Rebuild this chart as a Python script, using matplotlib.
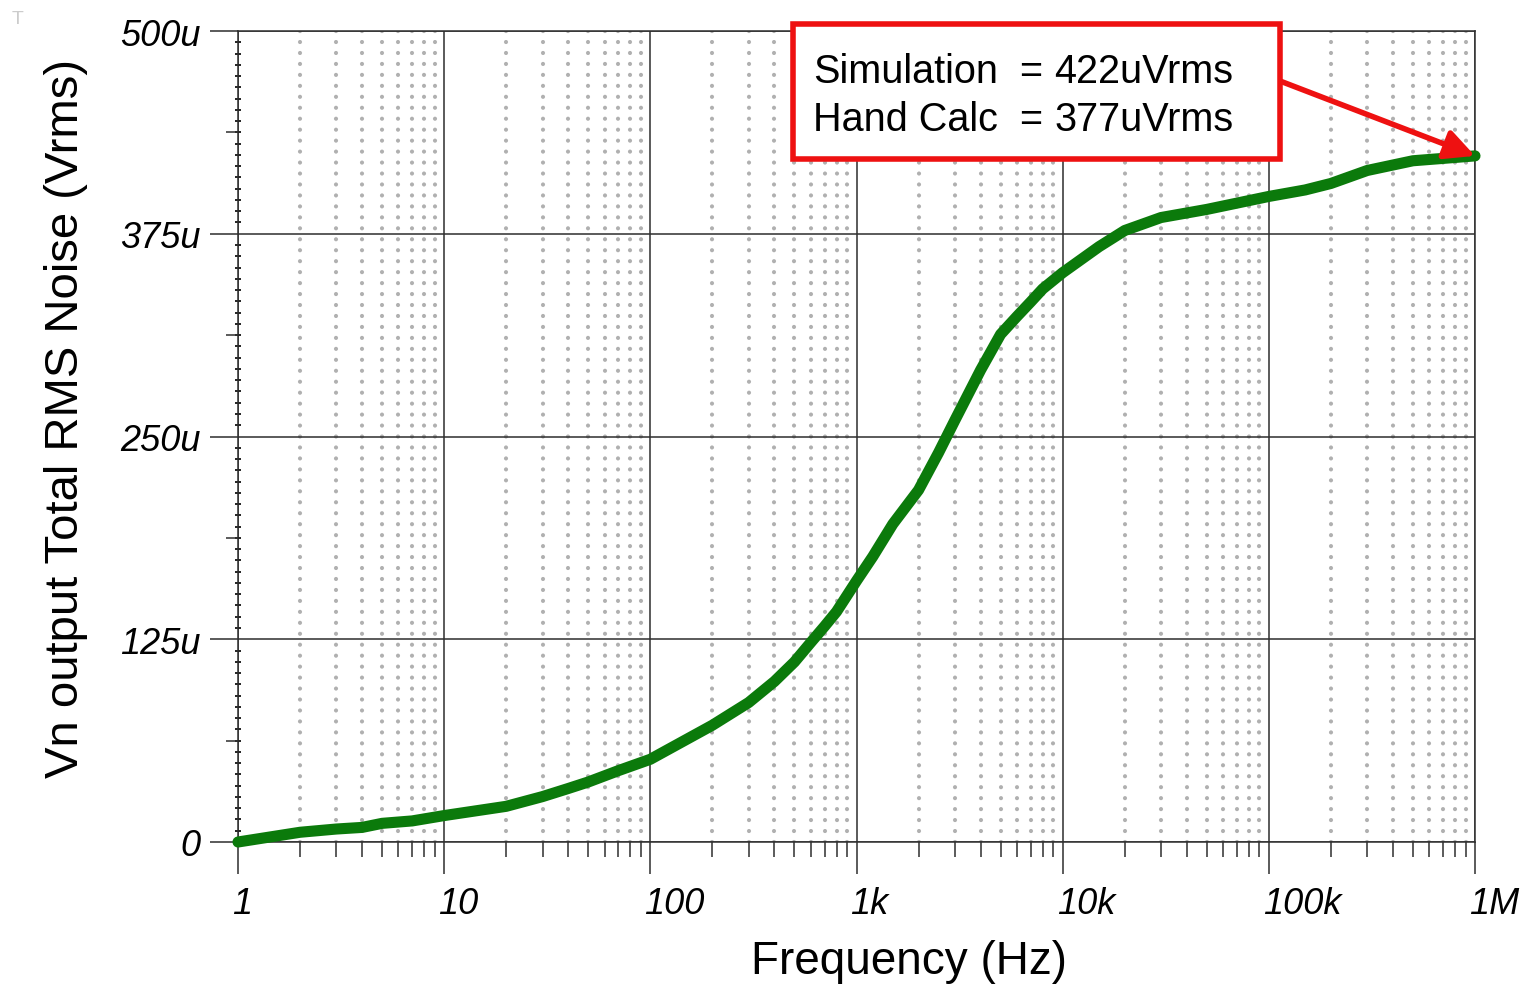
import matplotlib
matplotlib.use("Agg")
import matplotlib.pyplot as plt
import matplotlib.transforms as mtransforms
from matplotlib.ticker import FixedLocator, MultipleLocator, NullFormatter
from matplotlib.patches import Rectangle

# Curve (frequency in Hz, noise in uVrms)
freq = [1, 2, 3, 4, 5, 7, 10, 20, 30, 40, 50, 70, 100, 200, 300, 400, 500, 600, 700, 800,
        1000, 1200, 1500, 2000, 2500, 3000, 4000, 5000, 6000, 7000, 8000, 10000, 15000,
        20000, 30000, 50000, 100000, 150000, 200000, 300000, 500000, 1000000]
noise_u = [0, 6, 8, 9, 11.5, 13, 16.3, 22, 28, 33, 37, 44, 51, 72, 86, 99, 111, 123, 133, 142,
           161, 176, 196, 217, 240, 260, 291, 313, 324, 333, 341, 351, 367,
           377, 385, 390, 398, 402, 406, 414, 420, 423]

x_ticks = [1, 10, 100, 1e3, 1e4, 1e5, 1e6]
x_labels = ["1", "10", "100", "1k", "10k", "100k", "1M"]
y_ticks_u = [0, 125, 250, 375, 500]
y_labels = ["0", "125u", "250u", "375u", "500u"]
y_mid_u = [62.5, 187.5, 312.5, 437.5]

sim_text = ["Simulation", "Hand Calc"]
sim_vals = ["422uVrms", "377uVrms"]

plt.rcParams['font.family'] = ['Liberation Sans', 'DejaVu Sans']

W, H = 1522, 987
fig = plt.figure(figsize=(W / 100, H / 100), dpi=100)
ax = fig.add_axes([238 / W, 1 - 843 / H, (1475 - 238) / W, (843 - 32) / H])

axis_col = "#2e2e2e"
y_vals = [v * 1e-6 for v in noise_u]

ax.set_xscale("log")
ax.set_xlim(1, 1e6)
ax.set_ylim(0, 500e-6)

# grid: solid majors, dotted minor verticals
minor_x = [m * 10 ** d for d in range(6) for m in range(2, 10)]
ax.xaxis.set_major_locator(FixedLocator(x_ticks))
ax.xaxis.set_minor_locator(FixedLocator(minor_x))
ax.xaxis.set_minor_formatter(NullFormatter())
ax.set_xticklabels(x_labels)
ax.yaxis.set_major_locator(FixedLocator([v * 1e-6 for v in y_ticks_u]))
ax.yaxis.set_minor_locator(MultipleLocator(125e-6 / 18))
ax.set_yticklabels(y_labels)

ax.grid(True, which="major", color=axis_col, lw=1.1)
ax.grid(True, which="minor", axis="x", color="#b0b0b0", lw=3.0,
        linestyle=(0, (0.01, 2.62)), dash_capstyle="round")
ax.set_axisbelow(True)

for s in ax.spines.values():
    s.set_color(axis_col)
    s.set_linewidth(1.1)

ax.tick_params(axis="x", which="major", direction="out", length=23, width=1.1,
               color=axis_col, pad=9, labelsize=26)
ax.tick_params(axis="x", which="minor", direction="out", length=11, width=1.1,
               color=axis_col)
ax.tick_params(axis="y", which="major", direction="out", length=20, width=1.1,
               color=axis_col, pad=7, labelsize=26)
ax.tick_params(axis="y", which="minor", direction="inout", length=5, width=1.2,
               color="black")

offset = mtransforms.ScaledTranslation(-6 / 100, 0, fig.dpi_scale_trans)
for lab in ax.get_xticklabels():
    lab.set_horizontalalignment("left")
    lab.set_fontstyle("italic")
    lab.set_transform(lab.get_transform() + offset)
for lab in ax.get_yticklabels():
    lab.set_fontstyle("italic")

# medium ticks halfway between the y majors
ax.plot([1] * len(y_mid_u), [v * 1e-6 for v in y_mid_u], ls="none", marker=0,
        ms=9, mew=1.1, color=axis_col, clip_on=False)

ax.plot(freq, y_vals, color="#0b7a0b", lw=8, solid_capstyle="round",
        solid_joinstyle="round", clip_on=False, zorder=5)

ax.set_xlabel("Frequency (Hz)", fontsize=33)
ax.xaxis.set_label_coords((909 - 238) / 1237, (843 - 940) / 811)
ax.set_ylabel("Vn output Total RMS Noise (Vrms)", fontsize=34)
ax.yaxis.set_label_coords((88 - 238) / 1237, (843 - 419) / 811)

# annotation box
box = Rectangle((793 / W, 1 - 160 / H), (1280 - 793) / W, (160 - 25) / H,
                transform=fig.transFigure, facecolor="white", edgecolor="#ee1111",
                lw=4, zorder=10)
fig.patches.append(box)
for i in range(2):
    yy = 1 - (72 + i * 48) / H
    fig.text(813 / W, yy, sim_text[i], fontsize=28.5, va="center", ha="left", zorder=11)
    fig.text(1019 / W, yy, "=", fontsize=28.5, va="center", ha="left", zorder=11)
    fig.text(1054 / W, yy, sim_vals[i], fontsize=28.5, va="center", ha="left", zorder=11)

ax.annotate("", xy=(freq[-1], y_vals[-1]), xycoords="data",
            xytext=(1280, H - 82), textcoords="figure pixels",
            arrowprops=dict(arrowstyle="-|>", color="#ee1111", lw=4,
                            mutation_scale=45, shrinkA=0, shrinkB=0),
            zorder=12)

fig.text(18 / W, 1 - 20 / H, "T", color="#cccccc", fontsize=14, ha="center", va="center")

fig.savefig("out.png", dpi=100, facecolor="white")
